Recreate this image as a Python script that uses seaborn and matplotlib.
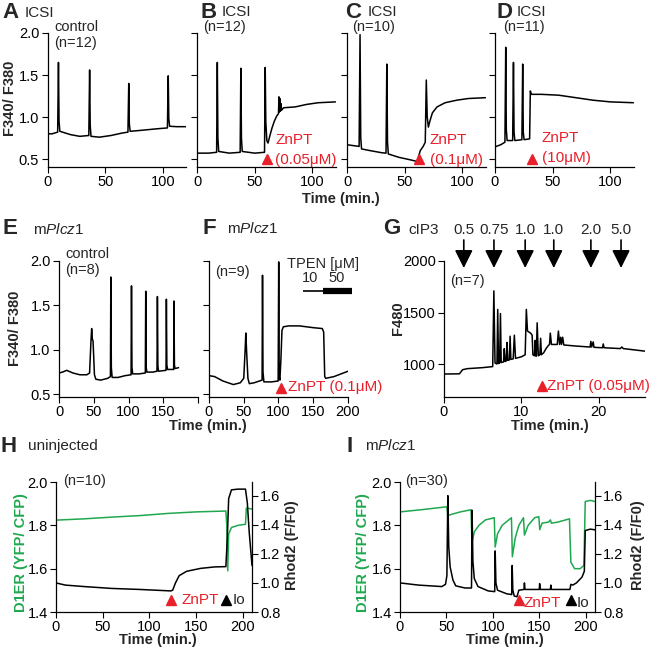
import matplotlib
matplotlib.use("Agg")
import matplotlib.pyplot as plt
import seaborn as sns

# ---- traces: (time, value) ----
A_trace = [(0, 0.80), (4, 0.80), (8.8, 0.82), (9.5, 1.65), (10.0, 0.95), (10.7, 0.83), (13, 0.82),
           (20, 0.79), (28, 0.77), (35.8, 0.78), (36.5, 1.56), (37.0, 0.90), (37.7, 0.77), (45, 0.76),
           (55, 0.78), (65, 0.81), (69.7, 0.82), (70.4, 1.40), (70.9, 0.92), (71.6, 0.83), (80, 0.84),
           (95, 0.86), (103.9, 0.87), (104.6, 1.49), (105.1, 0.98), (105.8, 0.89), (112, 0.885), (120, 0.885)]
B_trace = [(0, 0.57), (10, 0.57), (17.0, 0.58), (17.6, 1.65), (18.1, 0.75), (18.8, 0.59), (28, 0.57),
           (37.4, 0.58), (38.0, 1.58), (38.5, 0.75), (39.2, 0.59), (50, 0.57), (58.5, 0.58), (59.1, 1.59),
           (59.6, 0.95), (60.5, 0.72), (61.5, 0.69), (63, 0.77), (65, 0.87), (67, 0.95), (69, 1.01),
           (70.6, 1.04), (71.0, 1.24), (71.4, 1.06), (71.8, 1.22), (72.2, 1.07), (72.7, 1.16), (73.2, 1.08),
           (75, 1.11), (85, 1.12), (95, 1.15), (105, 1.17), (120, 1.18)]
C_trace = [(0, 0.67), (10.5, 0.65), (11.3, 1.98), (11.9, 0.75), (12.6, 0.62), (20, 0.60), (30, 0.575),
           (33.8, 0.57), (34.5, 1.63), (35.1, 0.70), (35.8, 0.56), (45, 0.52), (55, 0.49), (61, 0.47),
           (62, 0.53), (63.5, 0.60), (66, 0.65), (67.8, 0.70), (68.7, 1.44), (69.5, 1.00), (70.5, 0.88),
           (72, 0.96), (74, 1.05), (78, 1.12), (85, 1.17), (95, 1.20), (105, 1.22), (120, 1.23)]
D_trace = [(0, 0.645), (5, 0.67), (8.6, 0.70), (9.3, 1.83), (9.8, 0.85), (10.5, 0.72), (15.3, 0.72),
           (16.0, 1.65), (16.5, 0.82), (17.2, 0.72), (23.3, 0.73), (24.0, 1.63), (24.5, 0.82), (25.2, 0.73),
           (30.0, 0.74), (30.6, 1.31), (31.5, 1.27), (40, 1.27), (55, 1.26), (70, 1.23), (85, 1.20),
           (100, 1.18), (120, 1.17)]
E_trace = [(0, 0.74), (5, 0.75), (11, 0.77), (20, 0.74), (30, 0.72), (40, 0.72), (44, 0.74), (46, 1.10),
           (47, 1.24), (48, 1.12), (49, 1.10), (51, 0.72), (53, 0.67), (60, 0.66), (70, 0.68), (74, 0.70),
           (74.6, 1.82), (75.3, 0.80), (76.5, 0.69), (85, 0.69), (95, 0.71), (103.7, 0.72), (104.3, 1.72),
           (105, 0.80), (106, 0.73), (115, 0.73), (124.2, 0.74), (124.8, 1.66), (125.5, 0.80), (126.5, 0.75),
           (135, 0.75), (141, 0.76), (141.6, 1.60), (142.3, 0.82), (143.2, 0.76), (154, 0.77), (154.5, 1.57),
           (155.2, 0.83), (156.2, 0.78), (165, 0.78), (165.4, 1.55), (166.1, 0.83), (167, 0.79), (172, 0.80)]
F_trace = [(0, 0.71), (8, 0.70), (20, 0.65), (35, 0.61), (45, 0.63), (50, 0.68), (52, 1.00), (53, 1.19),
           (54, 1.00), (56, 0.68), (58, 0.62), (65, 0.63), (76.4, 0.66), (77, 1.84), (77.7, 0.75), (79, 0.64),
           (90, 0.64), (99.5, 0.65), (100.3, 1.99), (101, 0.70), (102, 0.66), (103.5, 0.90), (105, 1.22),
           (107, 1.26), (115, 1.27), (130, 1.27), (150, 1.25), (163, 1.24), (165, 1.20), (166.5, 0.70),
           (168, 0.68), (180, 0.70), (190, 0.73), (200, 0.76)]
G_trace = [(0, 903), (2.0, 905), (2.4, 945), (3.0, 955), (5.0, 965), (6.3, 975), (6.45, 1710), (6.6, 1010),
           (6.85, 1000), (6.95, 1530), (7.05, 1005), (7.2, 1010), (7.3, 1490), (7.4, 1015), (7.7, 1020),
           (7.8, 1150), (7.9, 1025), (8.05, 1030), (8.15, 1210), (8.25, 1035), (8.45, 1040), (8.55, 1270),
           (8.65, 1045), (8.95, 1050), (9.1, 1280), (9.25, 1055), (10.0, 1070), (10.5, 1090), (10.65, 1530),
           (10.8, 1320), (11.2, 1300), (11.4, 1280), (11.5, 1090), (11.7, 1080), (11.8, 1230), (11.9, 1075),
           (11.95, 1080), (12.05, 1400), (12.2, 1080), (12.4, 1090), (12.5, 1250), (12.6, 1090), (12.9, 1110),
           (13.2, 1150), (13.5, 1180), (13.65, 1190), (13.75, 1300), (13.9, 1190), (14.65, 1190), (14.8, 1320),
           (14.95, 1190), (15.1, 1260), (15.2, 1190), (15.35, 1260), (15.5, 1185), (17, 1175), (18.9, 1165),
           (19.0, 1220), (19.1, 1165), (19.3, 1215), (19.4, 1162), (20.5, 1158), (20.6, 1195), (20.7, 1158),
           (22.8, 1150), (23.0, 1165), (23.2, 1150), (26, 1125)]
H_d1er = [(0, 1.824), (30, 1.83), (60, 1.838), (90, 1.845), (120, 1.855), (150, 1.862), (182, 1.866),
          (183, 1.80), (184, 1.59), (185, 1.76), (188, 1.79), (195, 1.80), (203, 1.805), (204, 1.88), (210, 1.875)]
H_rhod2 = [(0, 1.0), (10, 0.985), (30, 0.975), (60, 0.962), (90, 0.955), (123, 0.945), (125, 0.95), (128, 1.0),
           (132, 1.05), (140, 1.08), (155, 1.10), (170, 1.11), (182, 1.112), (183.5, 1.30), (185, 1.58),
           (188, 1.64), (195, 1.645), (203, 1.645), (205, 1.55), (207, 1.35), (210, 1.12)]
I_d1er = [(0, 1.862), (25, 1.873), (49, 1.885), (50.5, 1.885), (51.5, 1.845), (55, 1.85), (65, 1.862),
          (76.5, 1.872), (77.5, 1.72), (80, 1.77), (85, 1.80), (92, 1.825), (101.5, 1.835), (102.5, 1.70),
          (105, 1.76), (110, 1.80), (120, 1.835), (121, 1.655), (124, 1.74), (128, 1.80), (133, 1.835),
          (134, 1.755), (138, 1.80), (145, 1.835), (149.5, 1.84), (150.5, 1.78), (153, 1.81), (160, 1.815),
          (162, 1.825), (163, 1.81), (170, 1.815), (182.5, 1.83), (184, 1.63), (188, 1.60), (194, 1.60),
          (198, 1.615), (199.5, 1.91), (205, 1.915), (210, 1.91)]
I_rhod2 = [(0, 1.0), (20, 0.985), (45, 0.975), (49, 0.99), (50.5, 1.05), (51.5, 1.60), (52.5, 1.25), (54, 1.11),
           (57, 1.02), (60, 0.98), (70, 0.965), (77, 0.965), (77.6, 1.50), (78.5, 1.15), (80, 1.03), (84, 0.975),
           (95, 0.945), (102, 0.94), (102.5, 1.22), (103.3, 1.0), (105, 0.95), (115, 0.925), (120.3, 0.92),
           (120.8, 1.12), (121.5, 0.95), (123, 0.91), (126, 0.905), (128, 0.95), (133.5, 0.955), (134, 1.0),
           (134.6, 0.955), (150, 0.955), (150.4, 0.995), (151, 0.955), (162, 0.955), (162.4, 0.985), (163, 0.955),
           (183, 0.955), (184, 0.99), (186, 0.985), (190, 1.0), (196, 1.04), (198.5, 1.08), (199.5, 1.36),
           (205, 1.37), (210, 1.365)]

# drug addition times (min.)
ZNPT_ROW1 = [61, 62.6, 32]            # panels B, C, D
ZNPT_ROW1_DOSE = ["(0.05μM)", "(0.1μM)", "(10μM)"]
ZNPT_F, ZNPT_G = 103, 12.7
ZNPT_H, IO_H = 123.7, 181.7
ZNPT_I, IO_I = 127.7, 183.7
CIP3_T = [2.56, 6.46, 10.5, 14.2, 19.0, 22.9]
CIP3_DOSE = ["0.5", "0.75", "1.0", "1.0", "2.0", "5.0"]
TPEN_10 = (135, 164)
TPEN_50 = (164, 206)

RED = "#E8202A"
GREEN = "#1FA84F"
W, H = 658, 649

sns.set_theme(style="ticks")
plt.rcParams["font.family"] = ["Liberation Sans", "DejaVu Sans"]
plt.rcParams["mathtext.fontset"] = "custom"
plt.rcParams["mathtext.rm"] = "Liberation Sans"
plt.rcParams["mathtext.it"] = "Liberation Sans:italic"

fig = plt.figure(figsize=(W / 100, H / 100), dpi=100)


def add_ax(left, top, right, bottom):
    return fig.add_axes([left / W, 1 - bottom / H, (right - left) / W, (bottom - top) / H])


def ftext(x, y, s, **kw):
    kw.setdefault("va", "center")
    kw.setdefault("ha", "left")
    kw.setdefault("fontsize", 10.5)
    fig.text(x / W, 1 - y / H, s, **kw)


def trace(ax, pts, color="black"):
    t, v = zip(*pts)
    sns.lineplot(x=list(t), y=list(v), ax=ax, sort=False, estimator=None, color=color, lw=1.1)


def style(ax, right=False):
    sns.despine(ax=ax, right=not right)
    ax.tick_params(labelsize=10.5, length=4, width=0.8, pad=2, color="black", labelcolor="black")
    for s in ax.spines.values():
        s.set_linewidth(0.9)
        s.set_color("black")


def marker(ax, t, v, color):
    ax.plot([t], [v], marker="^", ms=7, color=color, ls="none", clip_on=False)


# ---- row 1: ICSI ----
row1 = [add_ax(47.5, 33, 186, 167), add_ax(197, 33, 335.5, 167),
        add_ax(347, 33, 485.5, 167), add_ax(495, 33, 633.5, 167)]
for ax, pts in zip(row1, [A_trace, B_trace, C_trace, D_trace]):
    trace(ax, pts)
    ax.set_xlim(0, 120)
    ax.set_ylim(0.405, 2.0)
    ax.set_xticks([0, 50, 100])
    ax.set_yticks([0.5, 1.0, 1.5, 2.0])
    style(ax)
for ax in row1[1:]:
    ax.set_yticklabels([])
for ax, t in zip(row1[1:], ZNPT_ROW1):
    marker(ax, t, 0.495, RED)

ftext(2, 13, "A", fontsize=16, weight="bold")
ftext(25, 13, "ICSI", fontsize=11)
ftext(54, 27, "control")
ftext(54, 43, "(n=12)")
ftext(200, 12, "B", fontsize=16, weight="bold")
ftext(222, 12, "ICSI", fontsize=11)
ftext(203, 27, "(n=12)")
ftext(345, 12, "C", fontsize=16, weight="bold")
ftext(368, 12, "ICSI", fontsize=11)
ftext(352, 27, "(n=10)")
ftext(497, 12, "D", fontsize=16, weight="bold")
ftext(517, 12, "ICSI", fontsize=11)
ftext(503, 27, "(n=11)")
ftext(275, 140, "ZnPT", color=RED, fontsize=11)
ftext(275, 160, ZNPT_ROW1_DOSE[0], color=RED, fontsize=11)
ftext(430, 140, "ZnPT", color=RED, fontsize=11)
ftext(430, 160, ZNPT_ROW1_DOSE[1], color=RED, fontsize=11)
ftext(542, 138, "ZnPT", color=RED, fontsize=11)
ftext(542, 158, ZNPT_ROW1_DOSE[2], color=RED, fontsize=11)
ftext(10, 98, "F340/ F380", rotation=90, ha="center", weight="bold")
ftext(341, 199, "Time (min.)", ha="center", weight="bold")

# ---- row 2: mPlcz1 and cIP3 ----
axE = add_ax(59, 261, 198, 397)
axF = add_ax(209, 261, 348, 397)
for ax, pts in [(axE, E_trace), (axF, F_trace)]:
    trace(ax, pts)
    ax.set_xlim(0, 200)
    ax.set_ylim(0.47, 2.0)
    ax.set_xticks([0, 50, 100, 150, 200])
    ax.set_yticks([0.5, 1.0, 1.5, 2.0])
    style(ax)
axE.set_xticklabels(["0", "50", "100", "150", ""])
axF.set_yticklabels([])
marker(axF, ZNPT_F, 0.575, RED)
axF.plot(TPEN_10, [1.663, 1.663], color="black", lw=1.2, clip_on=False, solid_capstyle="butt")
axF.plot(TPEN_50, [1.663, 1.663], color="black", lw=4.5, clip_on=False, solid_capstyle="butt")

axG = add_ax(444, 261, 645, 397)
trace(axG, G_trace)
axG.set_xlim(0, 26)
axG.set_ylim(680, 2000)
axG.set_xticks([0, 10, 20])
axG.set_yticks([1000, 1500, 2000])
style(axG)
marker(axG, ZNPT_G, 785, RED)
for t, lab in zip(CIP3_T, CIP3_DOSE):
    axG.text(t, 2301, lab, ha="center", va="center", fontsize=11, clip_on=False)
    axG.annotate("", xy=(t, 1932), xytext=(t, 2204), annotation_clip=False,
                 arrowprops=dict(arrowstyle="-|>,head_length=1.1,head_width=0.55", color="black",
                                 lw=1.2, shrinkA=0, shrinkB=0, mutation_scale=10))

ftext(2, 229, "E", fontsize=16, weight="bold")
ftext(33, 229, r"m$\mathit{Plcz1}$", fontsize=11)
ftext(65, 254, "control")
ftext(65, 270, "(n=8)")
ftext(15, 328, "F340/ F380", rotation=90, ha="center", weight="bold")
ftext(203, 228, "F", fontsize=16, weight="bold")
ftext(227, 228, r"m$\mathit{Plcz1}$", fontsize=11)
ftext(215, 272, "(n=9)")
ftext(287, 264, "TPEN [μM]")
ftext(310, 278, "10", ha="center")
ftext(337, 278, "50", ha="center")
ftext(288, 387, "ZnPT (0.1μM)", color=RED, fontsize=11)
ftext(208, 426, "Time (min.)", ha="center", weight="bold")
ftext(383, 229, "G", fontsize=16, weight="bold")
ftext(408, 230, "cIP3", fontsize=11)
ftext(450, 281, "(n=7)")
ftext(547, 386, "ZnPT (0.05μM)", color=RED, fontsize=11)
ftext(398, 318, "F480", rotation=90, ha="center", weight="bold")
ftext(550, 426, "Time (min.)", ha="center", weight="bold")

# ---- row 3: D1ER / Rhod2 ----
for left, right, d1er, rhod2, zt, it in [(56, 252, H_d1er, H_rhod2, ZNPT_H, IO_H),
                                          (400, 595, I_d1er, I_rhod2, ZNPT_I, IO_I)]:
    ax = add_ax(left, 482, right, 612)
    ax2 = ax.twinx()
    trace(ax, d1er, GREEN)
    trace(ax2, rhod2, "black")
    ax.set_xlim(0, 210)
    ax.set_ylim(1.4, 2.0)
    ax.set_yticks([1.4, 1.6, 1.8, 2.0])
    ax.set_xticks([0, 50, 100, 150, 200])
    ax2.set_ylim(0.8, 1.694)
    ax2.set_yticks([0.8, 1.0, 1.2, 1.4, 1.6])
    style(ax)
    style(ax2, right=True)
    ax2.spines["left"].set_visible(False)
    ax2.spines["bottom"].set_visible(False)
    marker(ax2, zt, 0.885, RED)
    marker(ax2, it, 0.885, "black")

ftext(0, 446, "H", fontsize=16, weight="bold")
ftext(28, 446, "uninjected", fontsize=11)
ftext(63, 481, "(n=10)")
ftext(21, 553, "D1ER (YFP/ CFP)", rotation=90, ha="center", weight="bold", color=GREEN)
ftext(292, 545, "Rhod2 (F/F0)", rotation=90, ha="center", weight="bold")
ftext(182, 600, "ZnPT", color=RED, fontsize=11)
ftext(233, 600, "Io", fontsize=11)
ftext(158, 640, "Time (min.)", ha="center", weight="bold")

ftext(346, 446, "I", fontsize=16, weight="bold")
ftext(365, 446, r"m$\mathit{Plcz1}$", fontsize=11)
ftext(405, 481, "(n=30)")
ftext(363, 553, "D1ER (YFP/ CFP)", rotation=90, ha="center", weight="bold", color=GREEN)
ftext(638, 545, "Rhod2 (F/F0)", rotation=90, ha="center", weight="bold")
ftext(524, 603, "ZnPT", color=RED, fontsize=11)
ftext(577, 603, "Io", fontsize=11)
ftext(505, 640, "Time (min.)", ha="center", weight="bold")

fig.savefig("out.png", dpi=100)
